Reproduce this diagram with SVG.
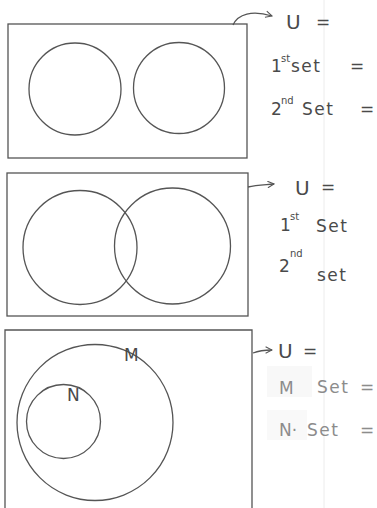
<svg xmlns="http://www.w3.org/2000/svg" width="377" height="508" viewBox="0 0 377 508">
<style>
.ln{fill:none;stroke:#555;stroke-width:1.3}
.hw{font-family:"DejaVu Sans",sans-serif;fill:#4a4a4a;font-weight:normal}
.big{font-size:20px}
.md{font-size:17px}
.wd{letter-spacing:1.5px}
.sup{font-size:10px}
.pale{fill:#8c8c8c}
</style>
<defs>
<marker id="ah" viewBox="0 0 10 10" refX="9" refY="5" markerWidth="8" markerHeight="8" orient="auto" markerUnits="userSpaceOnUse">
<path d="M1,1 L9,5 L1,9" fill="none" stroke="#555" stroke-width="1.3"/>
</marker>
</defs>
<rect width="377" height="508" fill="#fff"/>
<line x1="324" y1="0" x2="324" y2="508" stroke="#ececec" stroke-width="1"/>
<g id="panel1">
<rect class="ln" x="8" y="24" width="239" height="134"/>
<circle class="ln" cx="75" cy="89" r="46"/>
<circle class="ln" cx="179" cy="88" r="45.5"/>
</g>
<g id="panel2">
<rect class="ln" x="7" y="173" width="241" height="143"/>
<circle class="ln" cx="80" cy="247.5" r="57"/>
<circle class="ln" cx="172.5" cy="246" r="58"/>
</g>
<g id="panel3">
<path class="ln" d="M5,508 V330 H252 V508"/>
<circle class="ln" cx="95" cy="422.5" r="78"/>
<circle class="ln" cx="63.5" cy="421.5" r="37"/>
<text class="hw md" x="124" y="361">M</text>
<text class="hw md" x="67" y="401">N</text>
</g>
<g id="connectors">
<path class="ln" d="M233,25 C238,14 252,10 272,16" marker-end="url(#ah)"/>
<path class="ln" d="M248,187 C256,185 262,185 274,184" marker-end="url(#ah)"/>
<path class="ln" d="M253,353 C258,351 264,350 272,350" marker-end="url(#ah)"/>
</g>
<g id="labels1">
<text class="hw big" x="286" y="29">U</text>
<text class="hw md" x="316" y="28">=</text>
<text class="hw md" x="271" y="72">1</text>
<text class="hw sup" x="281" y="62">st</text>
<text class="hw md wd" x="291" y="72">set</text>
<text class="hw md" x="350" y="72">=</text>
<text class="hw md" x="271" y="115">2</text>
<text class="hw sup" x="281" y="104">nd</text>
<text class="hw md wd" x="302" y="115">Set</text>
<text class="hw md" x="360" y="115">=</text>
</g>
<g id="labels2">
<text class="hw big" x="295" y="195">U</text>
<text class="hw md" x="321" y="193">=</text>
<text class="hw md" x="280" y="231">1</text>
<text class="hw sup" x="290" y="220">st</text>
<text class="hw md wd" x="316" y="232">Set</text>
<text class="hw md" x="279" y="272">2</text>
<text class="hw sup" x="290" y="257">nd</text>
<text class="hw md wd" x="317" y="281">set</text>
</g>
<g id="labels3">
<rect x="267" y="366" width="45" height="31" fill="#f8f8f8"/>
<rect x="267" y="410" width="40" height="30" fill="#f9f9f9"/>
<text class="hw big" x="278" y="358">U</text>
<text class="hw md" x="303" y="357">=</text>
<text class="hw md pale" x="279" y="394">M</text>
<text class="hw md pale wd" x="317" y="393">Set</text>
<text class="hw md pale" x="360" y="393">=</text>
<text class="hw md pale" x="279" y="436">N·</text>
<text class="hw md pale wd" x="307" y="436">Set</text>
<text class="hw md pale" x="360" y="436">=</text>
</g>
</svg>
